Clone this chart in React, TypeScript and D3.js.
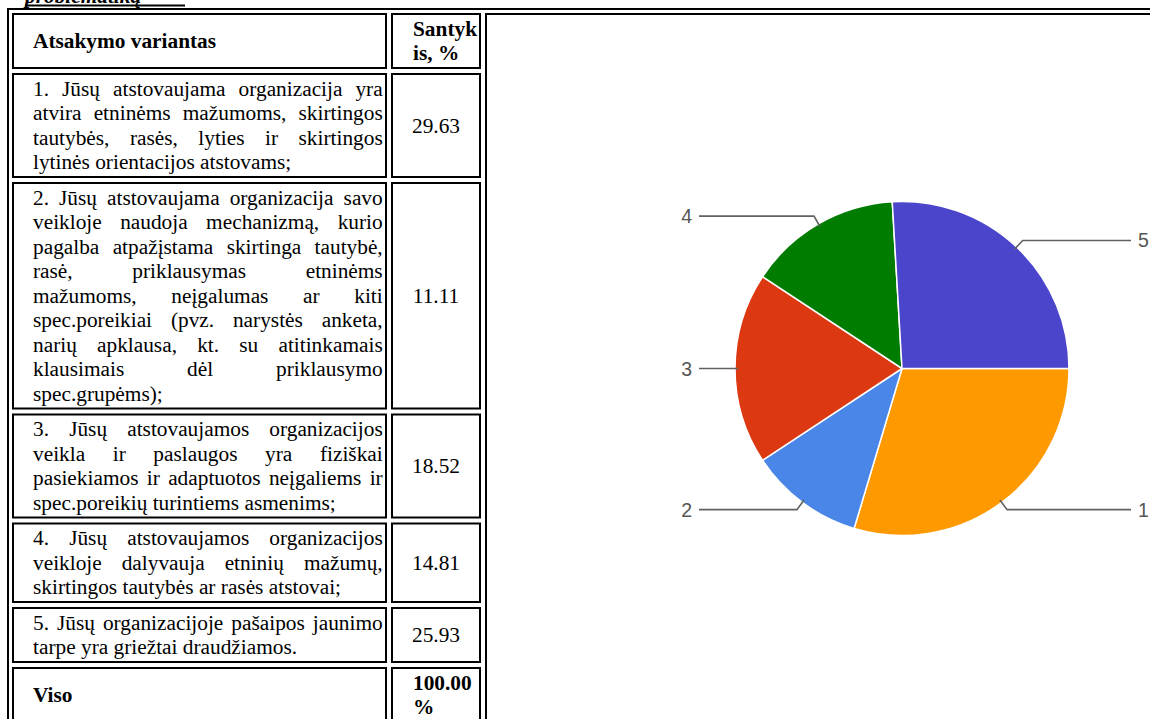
import React from 'react';
import * as d3 from 'd3';

// ---------- data ----------
const titleFragment = 'problematiką';
const headerAnswer = 'Atsakymo variantas';
const headerShare = ['Santyk', 'is, %'];

const answerLines: string[][] = [
  [
    '1. Jūsų atstovaujama organizacija yra',
    'atvira etninėms mažumoms, skirtingos',
    'tautybės, rasės, lyties ir skirtingos',
    'lytinės orientacijos atstovams;',
  ],
  [
    '2. Jūsų atstovaujama organizacija savo',
    'veikloje naudoja mechanizmą, kurio',
    'pagalba atpažįstama skirtinga tautybė,',
    'rasė, priklausymas etninėms',
    'mažumoms, neįgalumas ar kiti',
    'spec.poreikiai (pvz. narystės anketa,',
    'narių apklausa, kt. su atitinkamais',
    'klausimais dėl priklausymo',
    'spec.grupėms);',
  ],
  [
    '3. Jūsų atstovaujamos organizacijos',
    'veikla ir paslaugos yra fiziškai',
    'pasiekiamos ir adaptuotos neįgaliems ir',
    'spec.poreikių turintiems asmenims;',
  ],
  [
    '4. Jūsų atstovaujamos organizacijos',
    'veikloje dalyvauja etninių mažumų,',
    'skirtingos tautybės ar rasės atstovai;',
  ],
  [
    '5. Jūsų organizacijoje pašaipos jaunimo',
    'tarpe yra griežtai draudžiamos.',
  ],
];
const shareValues = [29.63, 11.11, 18.52, 14.81, 25.93];
const sliceLabels = ['1', '2', '3', '4', '5'];
const totalLabel = 'Viso';
const totalValue = ['100.00', '%'];

// ---------- styles ----------
const sliceColors = ['#ff9900', '#4a86e8', '#dc3912', '#007c00', '#4b45cc'];
const SERIF = 'Times New Roman';
const SANS = 'Liberation Sans';
const FS = 21.33;
const LH = 24.5;
const BASE = (LH - 1.107 * FS) / 2 + 0.891 * FS;

// measure text with a hidden SVG text node (same engine as the drawing)
let measureNode: SVGTextElement | null = null;
const cache = new Map<string, number>();
function measure(text: string, bold: boolean) {
  const key = (bold ? 'b|' : 'n|') + text;
  if (cache.has(key)) return cache.get(key)!;
  if (!measureNode) {
    const ns = 'http://www.w3.org/2000/svg';
    const svg = document.createElementNS(ns, 'svg');
    svg.setAttribute('width', '10');
    svg.setAttribute('height', '10');
    svg.style.position = 'absolute';
    svg.style.left = '-2000px';
    svg.style.top = '0px';
    svg.style.visibility = 'hidden';
    measureNode = document.createElementNS(ns, 'text') as SVGTextElement;
    measureNode.style.fontFamily = SERIF;
    measureNode.setAttribute('font-size', String(FS));
    svg.appendChild(measureNode);
    document.body.appendChild(svg);
  }
  measureNode.setAttribute('font-weight', bold ? 'bold' : 'normal');
  measureNode.textContent = text;
  const w = measureNode.getComputedTextLength();
  cache.set(key, w);
  return w;
}

// column geometry
const COL1 = { x0: 12, x1: 387, tx0: 33, tx1: 382.7 };
const COL2 = { x0: 391, x1: 481, tx0: 413 };
const COL3X = 485;
const GAP = 4;
const TOP = 13;

const serifStyle = { fontFamily: SERIF };

function JustLines({ lines, y0 }: { lines: string[]; y0: number }) {
  const W = COL1.tx1 - COL1.tx0;
  const sp = FS * 0.25;
  return (
    <g>
      {lines.map((line, i) => {
        const words = line.split(' ');
        const ws = words.map((w) => measure(w, false));
        const total = d3.sum(ws);
        const last = i === lines.length - 1;
        const gap = !last && words.length > 1 ? (W - total) / (words.length - 1) : sp;
        let x = COL1.tx0;
        const xs = ws.map((w) => {
          const cur = x;
          x += w + gap;
          return cur;
        });
        return (
          <text key={i} y={y0 + i * LH + BASE} fontFamily={SERIF} style={serifStyle} fontSize={FS} fill="#000">
            {words.map((w, j) => (
              <tspan key={j} x={xs[j]}>{w}</tspan>
            ))}
          </text>
        );
      })}
    </g>
  );
}

type Row = { c1: string[]; c1Bold: boolean; c2: string[]; c2Bold: boolean; c2Center: boolean };

export default function App() {
  const rows: Row[] = [
    { c1: [headerAnswer], c1Bold: true, c2: headerShare, c2Bold: true, c2Center: false },
    ...answerLines.map((l, i) => ({ c1: l, c1Bold: false, c2: [shareValues[i].toFixed(2)], c2Bold: false, c2Center: true })),
    { c1: [totalLabel], c1Bold: true, c2: totalValue, c2Bold: true, c2Center: false },
  ];
  let y = TOP;
  const laid = rows.map((r) => {
    const n = Math.max(r.c1.length, r.c2.length);
    const h = n * LH + 7;
    const out = { ...r, y, h };
    y += h + GAP;
    return out;
  });

  // pie
  const cx = 902;
  const cy = 368.5;
  const R = 167;
  const pie = d3
    .pie<number>()
    .sort(null)
    .value((d) => d)
    .startAngle(Math.PI / 2)
    .endAngle(Math.PI / 2 + 2 * Math.PI);
  const arcs = pie(shareValues);
  const arcGen = d3.arc<d3.PieArcDatum<number>>().innerRadius(0).outerRadius(R);
  const leftEnd = 699;
  const rightEnd = 1131;

  return (
    <div>
      <svg width={1150} height={719} style={{ position: 'absolute', left: 0, top: 0, background: '#fff', fontFamily: SERIF }}>
        <rect x={0} y={0} width={1150} height={719} fill="#fff" />
        {/* cut-off heading above the table */}
        <text x={25} y={2.5} fontFamily={SERIF} style={serifStyle} fontSize={FS} fontWeight="bold" fontStyle="italic" fill="#000">
          {titleFragment}
        </text>
        <rect x={25} y={4.5} width={160} height={2} fill="#000" />

        {/* table outer border */}
        <rect x={8} y={9} width={1300} height={900} fill="none" stroke="#000" strokeWidth={2} />

        {laid.map((r, i) => {
          const c1y0 = r.y + 3.5 + ((r.h - 7) - r.c1.length * LH) / 2;
          const c2y0 = r.y + 3.5 + ((r.h - 7) - r.c2.length * LH) / 2;
          return (
            <g key={i}>
              <rect x={COL1.x0 + 1} y={r.y + 1} width={COL1.x1 - COL1.x0 - 2} height={r.h - 2} fill="none" stroke="#000" strokeWidth={2} />
              <rect x={COL2.x0 + 1} y={r.y + 1} width={COL2.x1 - COL2.x0 - 2} height={r.h - 2} fill="none" stroke="#000" strokeWidth={2} />
              {r.c1Bold ? (
                r.c1.map((t, j) => (
                  <text key={j} x={COL1.tx0} y={c1y0 + j * LH + BASE} fontFamily={SERIF} style={serifStyle} fontSize={FS} fontWeight="bold">
                    {t}
                  </text>
                ))
              ) : (
                <JustLines lines={r.c1} y0={c1y0} />
              )}
              {r.c2.map((t, j) => (
                <text
                  key={j}
                  x={r.c2Center ? (COL2.x0 + COL2.x1) / 2 : COL2.tx0}
                  y={c2y0 + j * LH + BASE}
                  textAnchor={r.c2Center ? 'middle' : 'start'}
                  fontFamily={SERIF}
                  style={serifStyle}
                  fontSize={FS}
                  fontWeight={r.c2Bold ? 'bold' : 'normal'}
                >
                  {t}
                </text>
              ))}
            </g>
          );
        })}

        {/* pie cell */}
        <rect x={COL3X + 1} y={TOP + 1} width={1000} height={900} fill="none" stroke="#000" strokeWidth={2} />

        <g transform={`translate(${cx},${cy})`}>
          {arcs.map((a, i) => (
            <path key={i} d={arcGen(a) || ''} fill={sliceColors[i]} stroke="#fff" strokeWidth={1.5} />
          ))}
        </g>
        {arcs.map((a, i) => {
          const mid = (a.startAngle + a.endAngle) / 2;
          const dx = Math.sin(mid);
          const dy = -Math.cos(mid);
          const sx = cx + dx * (R - 3);
          const sy = cy + dy * (R - 3);
          const ex = cx + dx * (R + 9);
          const ey = cy + dy * (R + 9);
          const right = dx >= 0;
          const endX = right ? rightEnd : leftEnd;
          return (
            <g key={i}>
              <polyline points={`${sx},${sy} ${ex},${ey} ${endX},${ey}`} fill="none" stroke="#616161" strokeWidth={1.6} />
              <text
                x={right ? endX + 7 : endX - 7}
                y={ey + 7}
                textAnchor={right ? 'start' : 'end'}
                fontFamily={SANS}
                style={{ fontFamily: SANS }}
                fontSize={19.5}
                fill="#555"
              >
                {sliceLabels[i]}
              </text>
            </g>
          );
        })}
      </svg>
    </div>
  );
}
